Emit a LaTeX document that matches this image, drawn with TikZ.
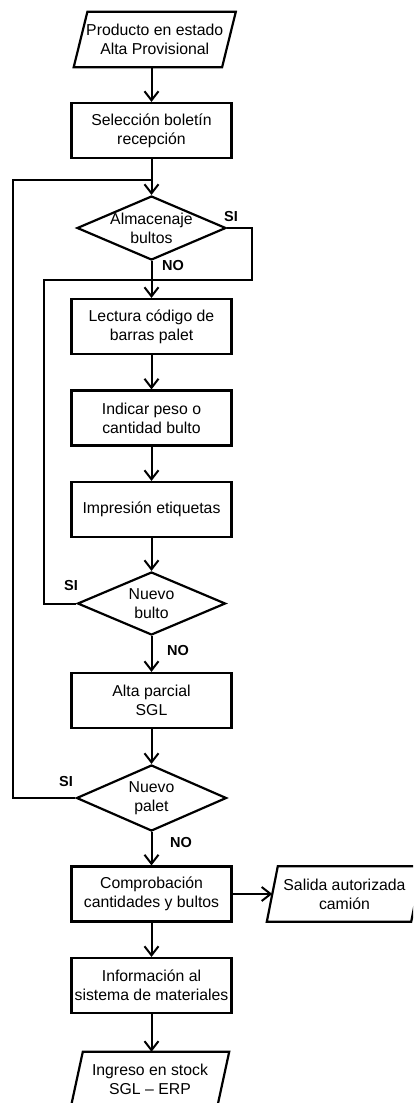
\documentclass[tikz,border=0pt]{standalone}
\usepackage{fontspec}
\setmainfont{Liberation Sans}
\usetikzlibrary{shapes.geometric,arrows.meta,calc}

% parallelogram (data) outline around an invisible node: #1 node name, #2 half skew
\newcommand\drawdata[2]{%
  \draw[outline] ([xshift=#2]#1.north west) -- ([xshift=#2]#1.north east)
    -- ([xshift=-#2]#1.south east) -- ([xshift=-#2]#1.south west) -- cycle;}

\begin{document}
\begin{tikzpicture}[x=1pt,y=-1pt,
  every node/.style={font=\fontsize{15.8}{18.8}\selectfont, align=center},
  outline/.style={line width=2.2pt, line join=miter},
  proc/.style={draw, outline, rectangle, minimum width=160pt, minimum height=55pt, inner sep=0pt},
  decision/.style={draw, outline, diamond, inner sep=-16pt},
  data/.style={rectangle, minimum height=55pt, inner sep=0pt, minimum width=#1},
  link/.style={line width=2pt},
  flow/.style={link, -{Straight Barb[length=9pt,width=14pt]}},
  answer/.style={font=\fontsize{14.5}{16}\selectfont\bfseries},
]
\path[use as bounding box] (0,0) rectangle (413,1103);
\clip (0,0) rectangle (413,1103);

% nodes of the main column
\node[data=148pt] (start) at (154.75,39.5) {Producto en estado\\Alta Provisional};
\node[proc] (sel)  at (151.5,130.5) {Selección boletín\\recepción};
\node[decision, minimum width=149pt, minimum height=64pt] (alm) at (151.5,228) {Almacenaje\\bultos};
\node[proc] (lec)  at (151.5,326.5) {Lectura código de\\barras palet};
\node[proc] (ind)  at (151.5,418) {Indicar peso o\\cantidad bulto};
\node[proc] (imp)  at (151.5,509.5) {Impresión etiquetas};
\node[decision, minimum width=148pt, minimum height=63pt] (nb) at (151.5,603.5) {Nuevo\\bulto};
\node[proc] (alta) at (151.5,700.5) {Alta parcial\\SGL};
\node[decision, minimum width=150pt, minimum height=66pt] (np) at (151.5,798) {Nuevo\\palet};
\node[proc] (comp) at (151.5,894) {Comprobación\\cantidades y bultos};
\node[data=144pt] (sal) at (344.5,894) {Salida autorizada\\camión};
\node[proc] (info) at (151.5,985.5) {Información al\\sistema de materiales};
\node[data=146pt] (ing) at (150,1079.5) {Ingreso en stock\\SGL – ERP};

\drawdata{start}{6.85pt}
\drawdata{sal}{5.5pt}
\drawdata{ing}{6pt}

% answer labels
\node[answer] (siA) at (231,217) {SI};
\node[answer] (noA) at (173,266) {NO};
\node[answer] (siB) at (71,586) {SI};
\node[answer] (noB) at (178,650) {NO};
\node[answer] (siC) at (66,781) {SI};
\node[answer] (noC) at (181,842) {NO};

% junctions and loop corners
\coordinate (j1) at (151.5,180);
\coordinate (j2) at (151.5,280);
\coordinate (railA) at (13,180);
\coordinate (railB) at (44,280);
\coordinate (railC) at (252,280);

% main flow
\draw[flow] (sel.north |- start.south) -- (sel.north);
\draw[flow] (sel.south) -- (alm.north);
\draw[flow] (alm.south) -- (lec.north);
\draw[flow] (lec.south) -- (ind.north);
\draw[flow] (ind.south) -- (imp.north);
\draw[flow] (imp.south) -- (nb.north);
\draw[flow] (nb.south) -- (alta.north);
\draw[flow] (alta.south) -- (np.north);
\draw[flow] (np.south) -- (comp.north);
\draw[flow] (comp.south) -- (info.north);
\draw[flow] (info.south) -- (info.south |- ing.north);
\draw[flow] (comp.east) -- (sal.west);

% loops back
\draw[link] (alm.east) -| (railC) -- (j2);
\draw[link] (nb.west) -| (railB) -- (j2);
\draw[link] (np.west) -| (railA) -- (j1);
\end{tikzpicture}
\end{document}
